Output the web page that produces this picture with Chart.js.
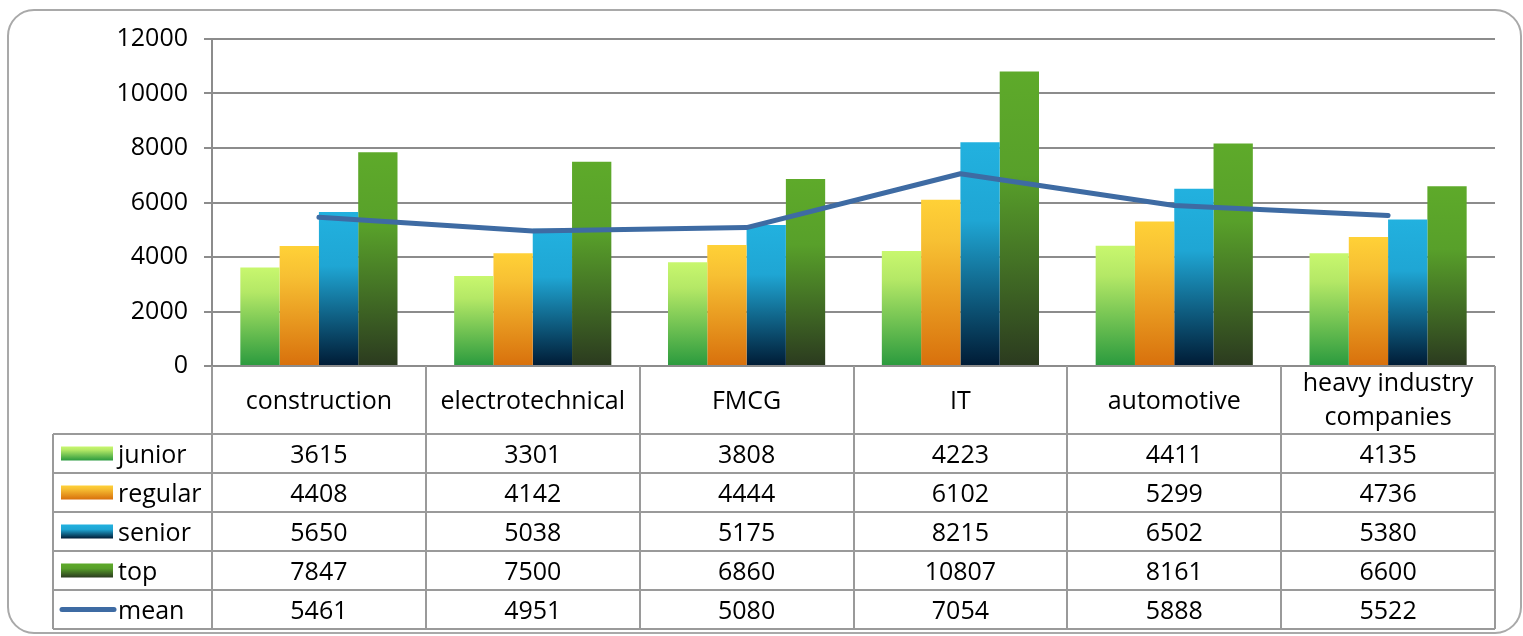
<!DOCTYPE html>
<html>
<head>
<meta charset="utf-8">
<script src="https://cdn.jsdelivr.net/npm/chart.js@4/dist/chart.umd.min.js"></script>
<style>
  html, body { margin: 0; padding: 0; background: #ffffff; }
  #wrap { position: relative; width: 1523px; height: 636px; }
  canvas { display: block; }
</style>
</head>
<body>
<div id="wrap"><canvas id="c" width="1523" height="636"></canvas></div>
<script>
const categories = ['construction', 'electrotechnical', 'FMCG', 'IT', 'automotive', ['heavy industry', 'companies']];
const junior  = [3615, 3301, 3808, 4223, 4411, 4135];
const regular = [4408, 4142, 4444, 6102, 5299, 4736];
const senior  = [5650, 5038, 5175, 8215, 6502, 5380];
const top_    = [7847, 7500, 6860, 10807, 8161, 6600];
const mean    = [5461, 4951, 5080, 7054, 5888, 5522];
const yTicks  = [0, 2000, 4000, 6000, 8000, 10000, 12000];

const FONT = '"Open Sans", "DejaVu Sans", sans-serif';
const FSIZE = 25;

const gradStops = {
  junior:  [[0, '#c8f76e'], [0.25, '#b4e866'], [1, '#2a9a3e']],
  regular: [[0, '#ffd137'], [0.25, '#f7c033'], [1, '#d8700c']],
  senior:  [[0, '#22b1df'], [0.35, '#1fa6d4'], [1, '#001b35']],
  top:     [[0, '#5eaa2a'], [0.35, '#58a02a'], [1, '#2b3a1f']]
};

function makeGrad(ctx, y0, y1, stops) {
  const g = ctx.createLinearGradient(0, y0, 0, y1);
  stops.forEach(s => g.addColorStop(s[0], s[1]));
  return g;
}

function barBg(key) {
  return function(context) {
    const chart = context.chart;
    const ys = chart.scales && chart.scales.y;
    if (!chart.chartArea || !ys || context.raw === undefined) return gradStops[key][0][1];
    const t = ys.getPixelForValue(context.raw);
    const b = ys.getPixelForValue(0);
    return makeGrad(chart.ctx, t, b, gradStops[key]);
  };
}

const seriesRows = [
  { name: 'junior', data: junior, key: 'junior' },
  { name: 'regular', data: regular, key: 'regular' },
  { name: 'senior', data: senior, key: 'senior' },
  { name: 'top', data: top_, key: 'top' },
  { name: 'mean', data: mean, key: 'mean' }
];

const GRID = '#8c8c8c';
const TABLE = '#9a9a9a';

const framePlugin = {
  id: 'frame',
  beforeDraw(chart) {
    const ctx = chart.ctx;
    ctx.save();
    ctx.strokeStyle = '#a9a9a9';
    ctx.lineWidth = 2;
    const x = 8, y = 10, w = 1513, h = 623, r = 26;
    ctx.beginPath();
    ctx.moveTo(x + r, y);
    ctx.lineTo(x + w - r, y);
    ctx.arcTo(x + w, y, x + w, y + r, r);
    ctx.lineTo(x + w, y + h - r);
    ctx.arcTo(x + w, y + h, x + w - r, y + h, r);
    ctx.lineTo(x + r, y + h);
    ctx.arcTo(x, y + h, x, y + h - r, r);
    ctx.lineTo(x, y + r);
    ctx.arcTo(x, y, x + r, y, r);
    ctx.closePath();
    ctx.stroke();
    ctx.restore();
  }
};

const tablePlugin = {
  id: 'dataTable',
  afterDraw(chart) {
    const ctx = chart.ctx;
    const xs = chart.scales.x;
    const area = chart.chartArea;
    const n = categories.length;
    const cw = (area.right - area.left) / n;
    const headTop = area.bottom;
    const headH = 68;
    const rowH = 39;
    const legLeft = 53;
    const rowsTop = headTop + headH;
    const tableBottom = rowsTop + rowH * seriesRows.length;

    ctx.save();
    ctx.strokeStyle = TABLE;
    ctx.lineWidth = 2;
    for (let i = 0; i <= n; i++) {
      const x = Math.round(area.left + i * cw);
      ctx.beginPath();
      ctx.moveTo(x, headTop);
      ctx.lineTo(x, tableBottom);
      ctx.stroke();
    }
    ctx.beginPath();
    ctx.moveTo(legLeft, rowsTop);
    ctx.lineTo(legLeft, tableBottom);
    ctx.stroke();
    for (let r = 0; r <= seriesRows.length; r++) {
      const y = Math.round(rowsTop + r * rowH);
      ctx.beginPath();
      ctx.moveTo(legLeft, y);
      ctx.lineTo(area.right, y);
      ctx.stroke();
    }

    ctx.fillStyle = '#000';
    ctx.font = FSIZE + 'px ' + FONT;
    ctx.textAlign = 'center';
    ctx.textBaseline = 'middle';
    categories.forEach((c, i) => {
      const cx = xs.getPixelForValue(i);
      if (Array.isArray(c)) {
        ctx.fillText(c[0], cx, headTop + 18);
        ctx.fillText(c[1], cx, headTop + 52);
      } else {
        ctx.fillText(c, cx, headTop + headH / 2 + 2);
      }
    });
    seriesRows.forEach((s, r) => {
      const cy = rowsTop + r * rowH + rowH / 2;
      ctx.textAlign = 'center';
      ctx.fillStyle = '#000';
      s.data.forEach((v, i) => {
        ctx.fillText(String(v), xs.getPixelForValue(i), cy + 2);
      });
      if (s.key === 'mean') {
        ctx.strokeStyle = '#3e6ba3';
        ctx.lineWidth = 5;
        ctx.lineCap = 'round';
        ctx.beginPath();
        ctx.moveTo(62, cy);
        ctx.lineTo(114, cy);
        ctx.stroke();
        ctx.strokeStyle = TABLE;
        ctx.lineWidth = 2;
        ctx.lineCap = 'butt';
      } else {
        ctx.fillStyle = makeGrad(ctx, cy - 7, cy + 7, gradStops[s.key]);
        ctx.fillRect(61, cy - 7, 52, 14);
      }
      ctx.fillStyle = '#000';
      ctx.textAlign = 'left';
      ctx.fillText(s.name, 118, cy + 2);
    });
    ctx.restore();
  }
};

new Chart(document.getElementById('c'), {
  data: {
    labels: categories,
    datasets: [
      { type: 'line', label: 'mean', data: mean, borderColor: '#3e6ba3', borderWidth: 5,
        pointRadius: 0, pointHoverRadius: 0, fill: false, tension: 0,
        borderCapStyle: 'round', borderJoinStyle: 'round', order: 0 },
      { type: 'bar', label: 'junior', data: junior, backgroundColor: barBg('junior'), order: 1 },
      { type: 'bar', label: 'regular', data: regular, backgroundColor: barBg('regular'), order: 1 },
      { type: 'bar', label: 'senior', data: senior, backgroundColor: barBg('senior'), order: 1 },
      { type: 'bar', label: 'top', data: top_, backgroundColor: barBg('top'), order: 1 }
    ]
  },
  options: {
    responsive: false,
    animation: false,
    events: [],
    layout: { padding: { left: 0, right: 28, top: 39, bottom: 270 } },
    datasets: { bar: { categoryPercentage: 0.735, barPercentage: 1.0, borderWidth: 0 } },
    plugins: { legend: { display: false }, tooltip: { enabled: false }, title: { display: false } },
    scales: {
      x: {
        display: false,
        offset: true,
        grid: { display: false }
      },
      y: {
        min: 0, max: 12000,
        afterBuildTicks(scale) { scale.ticks = yTicks.map(v => ({ value: v })); },
        afterFit(scale) { scale.width = 212; },
        ticks: { color: '#000', padding: 16, font: { family: FONT, size: FSIZE },
                 callback: v => String(v) },
        grid: { color: GRID, lineWidth: 2, tickLength: 8, drawTicks: true },
        border: { display: true, color: GRID, width: 2 }
      }
    }
  },
  plugins: [framePlugin, tablePlugin]
});
</script>
</body>
</html>
